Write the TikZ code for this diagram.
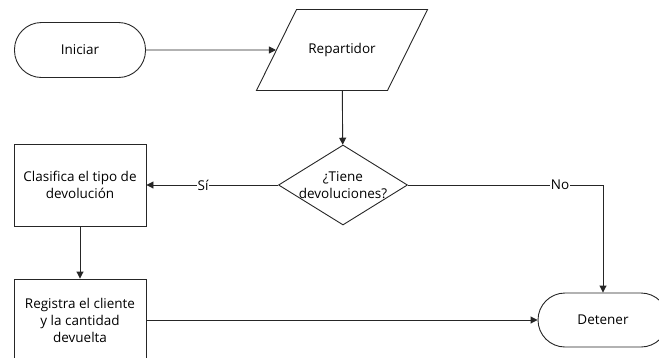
\documentclass[tikz,border=0pt]{standalone}
\usepackage{fontspec}
\setmainfont{Open Sans}
\usetikzlibrary{arrows.meta,shapes.geometric,positioning}

\begin{document}
\begin{tikzpicture}[x=1pt,y=-1pt,font=\fontsize{13.5}{17}\selectfont]
\tikzset{terminal/.style={draw,rectangle,rounded corners=27pt,minimum width=131pt,minimum height=55pt}}
\tikzset{io/.style={draw,trapezium,trapezium left angle=63.7,trapezium right angle=116.3,
    text width=71pt,align=center,inner xsep=10pt,text height=10pt,text depth=3pt,inner ysep=34pt}}
\tikzset{decision/.style={draw,diamond,minimum width=129pt,minimum height=80pt,inner sep=0pt}}
\tikzset{process/.style={draw,rectangle,minimum width=132pt,minimum height=82pt,align=center}}
\tikzset{arr/.style={draw,-{Triangle[length=7pt,width=7pt]}}}
\tikzset{lbl/.style={fill=white,inner sep=1pt}}

\useasboundingbox (0,0) rectangle (659,357);
\clip (0,0) rectangle (659,357);

\begin{scope}[line width=0.9pt, draw=black!85]
    \node[terminal] at (80,50) (start) {Iniciar};
    \node[io] at (342,50) (rep) {Repartidor};
    \node[decision, label={[align=center]center:¿Tiene\\devoluciones?}] at (343,185) (dec) {};
    \node[process] at (80,185) (clas) {Clasifica el tipo de\\devolución};
    \node[process] at (80,320) (reg) {Registra el cliente\\y la cantidad\\devuelta};
    \node[terminal, minimum width=130pt, minimum height=54pt] at (603,320) (stop) {Detener};

  \draw[arr] (start) -- (rep);
  \draw[arr] (rep) -- (dec);
  \draw[arr] (dec) -- node[lbl, pos=0.57] {Sí} (clas);
  \draw[arr] (dec) -| node[lbl, pos=0.39] {No} (stop);
  \draw[arr] (clas) -- (reg);
  \draw[arr] (reg) -- (stop);
\end{scope}

\end{tikzpicture}
\end{document}
